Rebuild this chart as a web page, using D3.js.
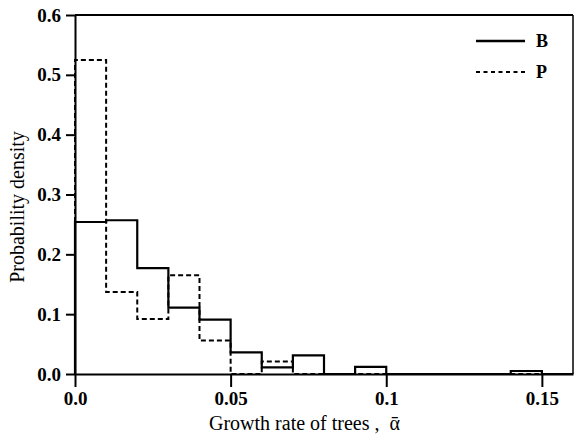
<!DOCTYPE html>
<html><head><meta charset="utf-8">
<script src="https://cdn.jsdelivr.net/npm/d3@7"></script>
<style>
html,body{margin:0;padding:0;background:#fff;}
svg{display:block;}
text{font-family:"Liberation Serif","Times New Roman",serif;fill:#000;}
</style></head>
<body>
<svg id="chart" width="574" height="435"></svg>
<script>
// Data
const binEdges = [0, 0.01, 0.02, 0.03, 0.04, 0.05, 0.06, 0.07, 0.08, 0.09, 0.10, 0.11, 0.12, 0.13, 0.14, 0.15, 0.16];
const valuesB = [0.254, 0.257, 0.177, 0.111, 0.091, 0.036, 0.011, 0.031, 0, 0.012, 0, 0, 0, 0, 0.005, 0];
const valuesP = [0.525, 0.137, 0.092, 0.165, 0.056, 0, 0.021, 0, 0, 0, 0, 0, 0, 0, 0, 0];
const xTicks = [0, 0.05, 0.1, 0.15];
const xTickLabels = ["0.0", "0.05", "0.1", "0.15"];
const yTicks = [0, 0.1, 0.2, 0.3, 0.4, 0.5, 0.6];
const yTickLabels = ["0.0", "0.1", "0.2", "0.3", "0.4", "0.5", "0.6"];
const seriesNames = ["B", "P"];

(function () {
const svg = d3.select("#chart");
const mLeft = 75, mRight = 573, mTop = 15, mBottom = 374;
const x = d3.scaleLinear().domain([0, 0.16]).range([mLeft, mRight]);
const y = d3.scaleLinear().domain([0, 0.6]).range([mBottom, mTop]);

// Axes
const xAxis = d3.axisBottom(x).tickValues(xTicks).tickFormat((d, i) => xTickLabels[i]).tickSize(13).tickSizeOuter(0).tickPadding(4);
const yAxis = d3.axisLeft(y).tickValues(yTicks).tickFormat((d, i) => yTickLabels[i]).tickSize(9).tickSizeOuter(0).tickPadding(5);

const gx = svg.append("g").attr("transform", `translate(0,${mBottom})`).call(xAxis);
const gy = svg.append("g").attr("transform", `translate(${mLeft},0)`).call(yAxis);
[gx, gy].forEach(g => {
  g.selectAll("path.domain").attr("stroke", "#000").attr("stroke-width", 2);
  g.selectAll(".tick line").attr("stroke", "#000").attr("stroke-width", 2);
  g.selectAll(".tick text").attr("font-size", 19).attr("font-weight", "bold").attr("fill", "#000");
});
gx.selectAll(".tick text").attr("dy", "0.71em").attr("y", 18);

// Frame top and right
svg.append("line").attr("x1", mLeft).attr("x2", mRight).attr("y1", mTop).attr("y2", mTop).attr("stroke", "#000").attr("stroke-width", 2);
svg.append("line").attr("x1", mRight).attr("x2", mRight).attr("y1", mTop).attr("y2", mBottom).attr("stroke", "#000").attr("stroke-width", 1.5);

// Step paths
function stepPoints(vals) {
  const pts = [[binEdges[0], 0]];
  vals.forEach((v, i) => { pts.push([binEdges[i], v]); pts.push([binEdges[i + 1], v]); });
  pts.push([binEdges[vals.length], 0]);
  return pts;
}
const line = d3.line().x(d => x(d[0])).y(d => y(d[1]));
svg.append("path").attr("d", line(stepPoints(valuesP))).attr("fill", "none").attr("stroke", "#000").attr("stroke-width", 2).attr("stroke-dasharray", "5,3");
svg.append("path").attr("d", line(stepPoints(valuesB))).attr("fill", "none").attr("stroke", "#000").attr("stroke-width", 2.2);

// Legend
const lg = svg.append("g");
lg.append("line").attr("x1", 476).attr("x2", 525).attr("y1", 41).attr("y2", 41).attr("stroke", "#000").attr("stroke-width", 2.5);
lg.append("line").attr("x1", 476).attr("x2", 525).attr("y1", 72).attr("y2", 72).attr("stroke", "#000").attr("stroke-width", 2).attr("stroke-dasharray", "4,3.5");
lg.append("text").attr("x", 536).attr("y", 47).attr("font-size", 18).attr("font-weight", "bold").text(seriesNames[0]);
lg.append("text").attr("x", 536).attr("y", 78).attr("font-size", 18).attr("font-weight", "bold").text(seriesNames[1]);

// Axis titles
svg.append("text").attr("x", 209).attr("y", 430).attr("font-size", 20).style("white-space", "pre").text("Growth rate of trees ,  ᾱ");
svg.append("text").attr("transform", "translate(24,207) rotate(-90)").attr("text-anchor", "middle").attr("font-size", 20).text("Probability density");
})();
</script>
</body></html>
